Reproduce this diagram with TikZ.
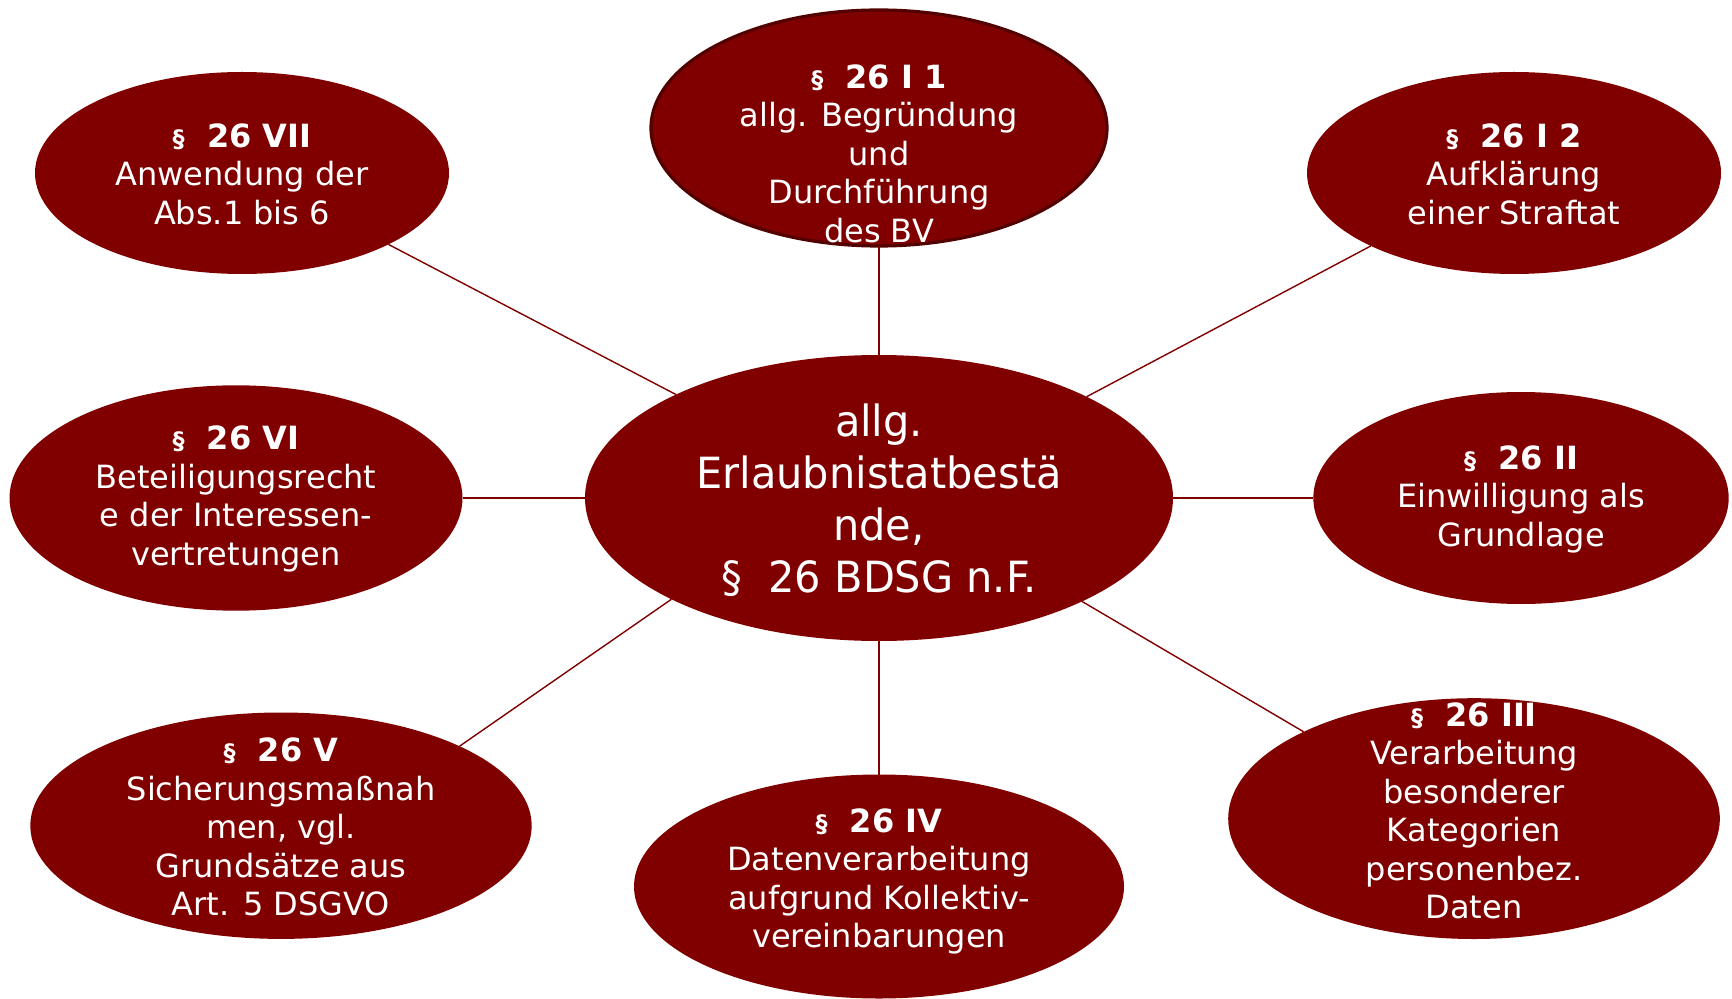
\documentclass[tikz,border=0pt]{standalone}
\usepackage{fontspec}
\setmainfont{DejaVu Sans}
\newfontfamily\centerfont[FakeStretch=0.965]{DejaVu Sans}
\usetikzlibrary{shapes.geometric}
\definecolor{boxred}{HTML}{800000}
\definecolor{rimred}{HTML}{520000}
\newcommand{\para}{{\fontsize{12}{12}\selectfont\S}}
\begin{document}
\begin{tikzpicture}[x=0.5pt,y=-0.5pt,
  blob/.style={ellipse, fill=boxred, draw=none, inner sep=0pt, outer sep=0pt},
  lbl/.style={text=white, align=center, font=\fontsize{16}{19.25}\selectfont, inner sep=0pt},
  clbl/.style={text=white, align=center, font=\centerfont\fontsize{21.5}{26}\selectfont, inner sep=0pt},
  link/.style={draw=boxred, line width=0.7pt}]
\useasboundingbox (0,0) rectangle (1732,999);

% ellipses
\node[blob, minimum width=294pt, minimum height=143pt] (c) at (879,498) {};
\node[blob, draw=rimred, line width=1.6pt, minimum width=228pt, minimum height=118pt] (t) at (879,128) {};
\node[blob, minimum width=207pt, minimum height=101pt] (vii) at (242,173) {};
\node[blob, minimum width=207pt, minimum height=101pt] (itwo) at (1514,173) {};
\node[blob, minimum width=226.5pt, minimum height=112.7pt] (vi) at (236,498) {};
\node[blob, minimum width=207.7pt, minimum height=106pt] (ii) at (1521,498) {};
\node[blob, minimum width=250.7pt, minimum height=113.2pt] (v) at (281,825.7) {};
\node[blob, minimum width=245pt, minimum height=112pt] (iv) at (879,886.5) {};
\node[blob, minimum width=245.8pt, minimum height=120.4pt] (iii) at (1474,818.6) {};

% connectors
\draw[link] (c.north) -- (t.south);
\draw[link] (c.south) -- (iv.north);
\draw[link] (c.west) -- (vi.east);
\draw[link] (c.east) -- (ii.west);
\draw[link] (c.153.8) -- (vii.-26.1);
\draw[link] (c.26.2) -- (itwo.-153.9);
\draw[link] (c.206.1) -- (v.24.7);
\draw[link] (c.333.9) -- (iii.153.3);

% labels
\node[clbl] (ctext) at (879,500) {allg.\\Erlaubnistatbestä\\nde,\\ \S\ \ 26 BDSG n.F.};
\node[lbl] (ttext) at (879,153.5) {\textbf{\para\ \ 26 I 1}\\allg. Begründung\\und\\Durchführung\\des BV};
\node[lbl] (viitext) at (242,174) {\textbf{\para\ \ 26 VII}\\Anwendung der\\Abs.1 bis 6};
\node[lbl] (itwotext) at (1514,174) {\textbf{\para\ \ 26 I 2}\\Aufklärung\\einer Straftat};
\node[lbl] (vitext) at (236,499) {\textbf{\para\ \ 26 VI}\\Beteiligungsrecht\\e der Interessen-\\vertretungen};
\node[lbl] (iitext) at (1521,499) {\textbf{\para\ \ 26 II}\\Einwilligung als\\Grundlage};
\node[lbl] (vtext) at (281,827) {\textbf{\para\ \ 26 V}\\Sicherungsmaßnah\\men, vgl.\\Grundsätze aus\\Art. 5 DSGVO};
\node[lbl] (ivtext) at (879,881.5) {\textbf{\para\ \ 26 IV}\\Datenverarbeitung\\aufgrund Kollektiv-\\vereinbarungen};
\node[lbl] (iiitext) at (1474,811) {\textbf{\para\ \ 26 III}\\Verarbeitung\\besonderer\\Kategorien\\personenbez.\\Daten};
\end{tikzpicture}
\end{document}
